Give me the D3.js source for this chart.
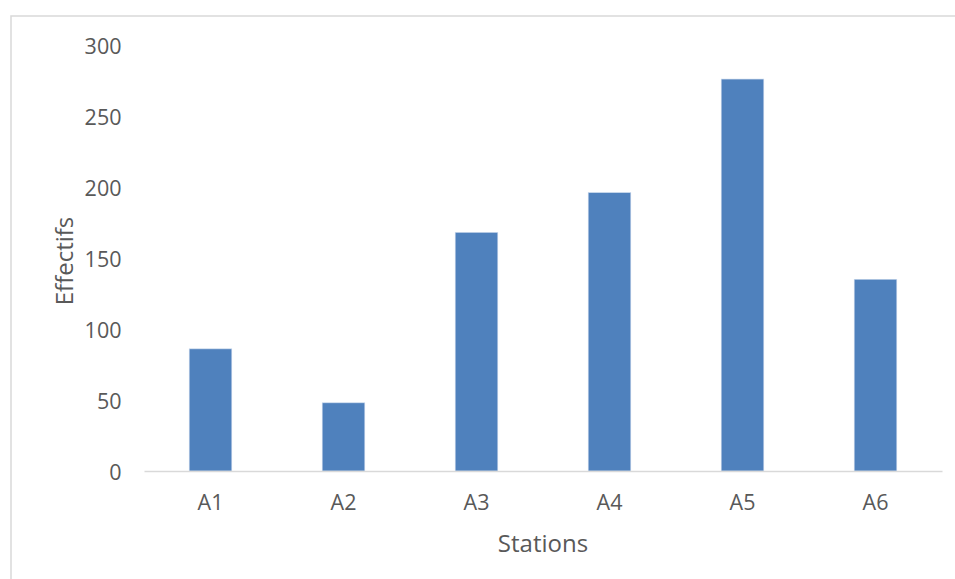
<!DOCTYPE html>
<html>
<head>
<meta charset="utf-8">
<script src="https://cdn.jsdelivr.net/npm/d3@7"></script>
<style>
  html, body { margin: 0; padding: 0; background: #fff; }
  svg { display: block; }
  text { font-family: "Open Sans", "Liberation Sans", sans-serif; fill: #595959; }
</style>
</head>
<body>
<svg id="chart" width="955" height="579"></svg>
<script>
const categories = ["A1", "A2", "A3", "A4", "A5", "A6"];
const values = [86, 48, 168, 196, 276, 135];
const yTicks = [0, 50, 100, 150, 200, 250, 300];
const xTitle = "Stations";
const yTitle = "Effectifs";

(function () {
const svg = d3.select("#chart");
const mLeft = 144, mRight = 942, mTop = 45, mBottom = 471;

// outer chart border
svg.append("rect")
  .attr("x", 11).attr("y", 16)
  .attr("width", 960).attr("height", 600)
  .attr("fill", "none").attr("stroke", "#d9d9d9").attr("stroke-width", 1.5);

const x = d3.scaleBand().domain(categories).range([mLeft, mRight]).paddingInner(0.68).paddingOuter(0.34);
const y = d3.scaleLinear().domain([0, 300]).range([mBottom, mTop]);

// y axis labels (no line)
const yAxis = d3.axisLeft(y).tickValues(yTicks).tickSize(0).tickPadding(0);
const gy = svg.append("g").attr("transform", `translate(${mLeft - 22.5},0)`).call(yAxis);
gy.select(".domain").remove();
gy.selectAll("text").attr("font-size", 21.5).attr("fill", "#595959").attr("dy", "0.38em")
  .style("font-family", '"Open Sans", sans-serif');

// bars
svg.append("g").selectAll("rect").data(values).join("rect")
  .attr("x", (d, i) => x(categories[i]))
  .attr("y", d => y(d))
  .attr("width", x.bandwidth())
  .attr("height", d => y(0) - y(d))
  .attr("fill", "#4f81bd")
  .attr("stroke", "#c5d5ea").attr("stroke-width", 0.6);

// x axis
const xAxis = d3.axisBottom(x).tickSize(0).tickPadding(24);
const gx = svg.append("g").attr("transform", `translate(0,${mBottom})`).call(xAxis);
gx.select(".domain").attr("stroke", "#d9d9d9").attr("stroke-width", 1.5);
gx.selectAll("text").attr("font-size", 21.5).attr("fill", "#595959")
  .style("font-family", '"Open Sans", sans-serif');

// axis titles
svg.append("text").attr("x", (mLeft + mRight) / 2).attr("y", 552)
  .attr("text-anchor", "middle").attr("font-size", 24).text(xTitle);
svg.append("text").attr("transform", `translate(73,261) rotate(-90)`)
  .attr("text-anchor", "middle").attr("font-size", 24).text(yTitle);
})();
</script>
</body>
</html>
